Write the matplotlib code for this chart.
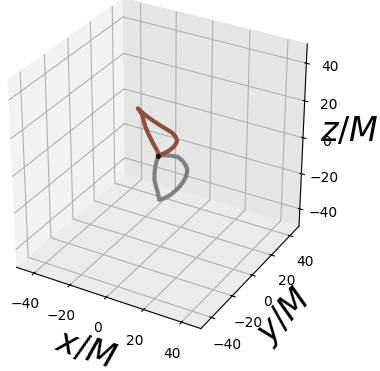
import matplotlib
matplotlib.use("Agg")
import matplotlib.pyplot as plt

# estimated trajectory points (x, y, z) in M
x_brown = [-1, 0.1, 2, 4, 5.6, 7, 8.3, 9, 8.2, 6.5, 3.4, 0, -3.4, -6.6, -9.6, -12.1,
           -11.2, -9.9, -9.1, -8.2, -6.3, -4.3, -2.8, -1.6, -1]
z_brown = [0.3, 1.2, 2.5, 4.1, 5.6, 7.3, 9.2, 11.3, 13.1, 14.7, 15.8, 16.9, 18.1, 19.5, 21, 22.6,
           21.7, 20.1, 17.3, 14.2, 10.3, 6.8, 4.5, 2.8, 0.3]
y_brown = [0] * len(x_brown)
x_gray = [-1, 1.5, 4, 7, 9.4, 12, 13.8, 14.5, 14.4, 13.6, 12.1, 9.8, 7.1, 4.8, 2.7, 0.8, -0.6,
          -1, -1.6, -2.5, -3.2, -3.2, -2.7, -2.2, -1.6, -1]
z_gray = [0.3, 1.3, 1.9, 2.5, 2.7, 1.3, -0.8, -2.5, -4.3, -7.3, -10.5, -14.1, -17.5, -19.9, -21.7, -23, -23.8,
          -21.7, -19.3, -16.5, -13.7, -9.7, -6.2, -3.7, -1.5, 0.3]
y_gray = [0] * len(x_gray)
ticks = [-40, -20, 0, 20, 40]

fig = plt.figure(figsize=(3.8, 3.71), dpi=100)
ax = fig.add_axes([-0.03, 0.09, 0.88, 0.95], projection="3d")
ax.set_box_aspect((1, 1, 1), zoom=1.07)
ax.plot(x_gray, y_gray, z_gray, color="#808080", lw=3, solid_joinstyle="round")
ax.plot(x_brown, y_brown, z_brown, color="#8c5040", lw=3, solid_joinstyle="round")
ax.scatter([-1], [0], [0.3], color="black", s=6, depthshade=False, zorder=5)
ax.set_xlim(-50, 50); ax.set_ylim(-50, 50); ax.set_zlim(-50, 50)
ax.set_xticks(ticks); ax.set_yticks(ticks); ax.set_zticks(ticks)
ax.tick_params(labelsize=10, pad=2.5)
for a, c in ((ax.xaxis, "#f2f2f2"), (ax.yaxis, "#e5e5e5"), (ax.zaxis, "#ebebeb")):
    a.set_pane_color(c)
ax.set_xlabel("$x/M$", fontsize=24, labelpad=2)
ax.set_ylabel("$y/M$", fontsize=24, labelpad=1)
ax.zaxis.set_rotate_label(False)
ax.set_zlabel("$z/M$", fontsize=24, labelpad=0, rotation=0)
fig.savefig("out.png", dpi=100)
